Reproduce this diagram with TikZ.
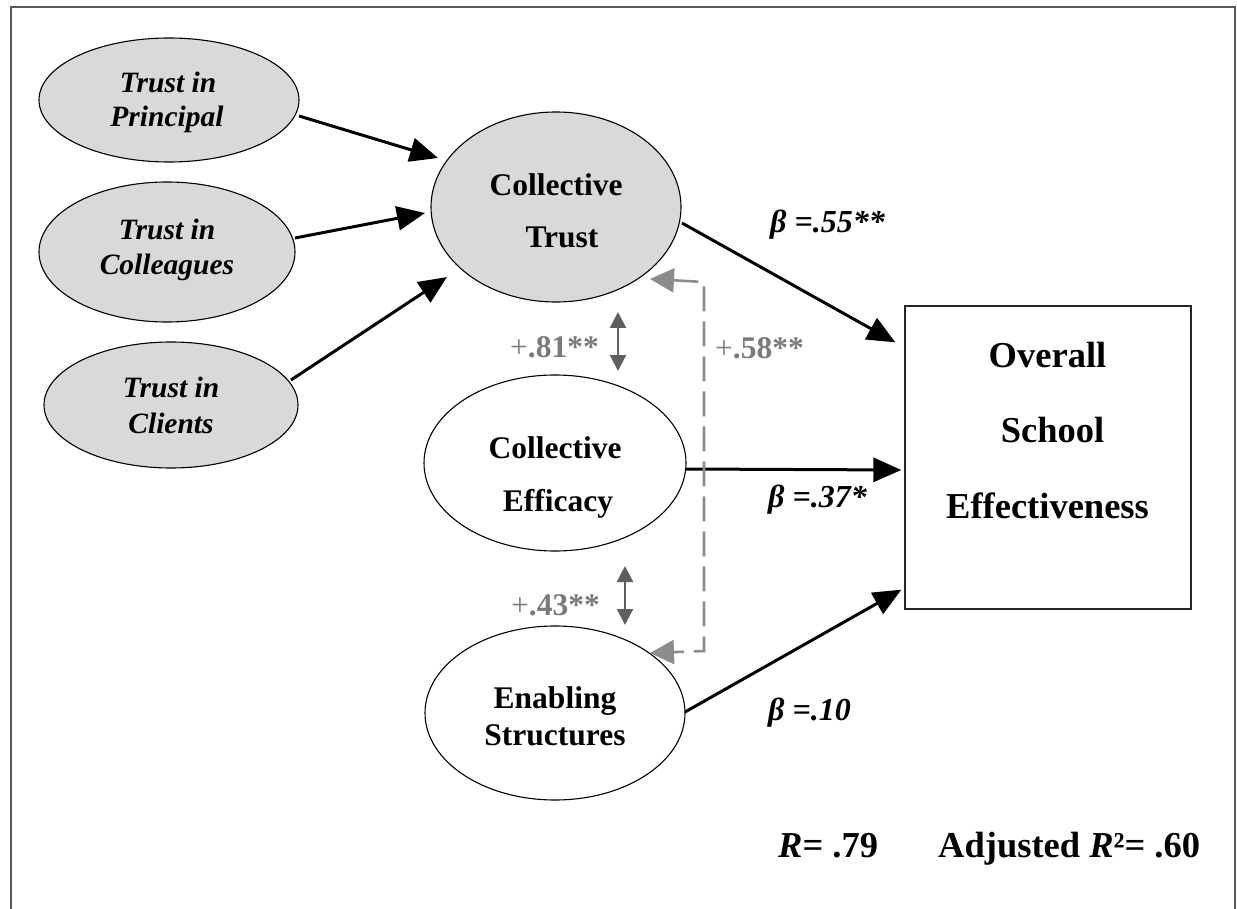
\documentclass[tikz,border=0pt]{standalone}
\usepackage{fontspec}
\setmainfont{Liberation Serif}
\usetikzlibrary{arrows.meta,calc,shapes.geometric}
\definecolor{elgray}{HTML}{D9D9D9}
\definecolor{framegray}{HTML}{595959}
\definecolor{dashgray}{HTML}{8C8C8C}
\definecolor{dblgray}{HTML}{5F5F5F}
\definecolor{labgray}{HTML}{7A7A7A}
\begin{document}
\begin{tikzpicture}[x=1pt,y=-1pt,
  el/.style={ellipse, draw, line width=1.1pt, inner sep=0pt},
  gel/.style={el, fill=elgray},
  ital/.style={inner sep=0pt, anchor=base, font=\fontsize{29.5}{34}\selectfont\bfseries\itshape},
  bld/.style={inner sep=0pt, anchor=base, font=\fontsize{31.5}{38}\selectfont\bfseries},
  boxt/.style={inner sep=0pt, anchor=base, font=\fontsize{36.5}{44}\selectfont\bfseries},
  beta/.style={inner sep=0pt, anchor=base west, font=\fontsize{32}{36}\selectfont\bfseries\itshape},
  glab/.style={inner sep=0pt, anchor=base west, text=labgray, font=\fontsize{31.5}{36}\selectfont\bfseries},
  rlab/.style={inner sep=0pt, anchor=base west, font=\fontsize{36.5}{42}\selectfont\bfseries},
  arr/.style={line width=3pt, -{Triangle[length=28pt,width=24pt]}},
  dsh/.style={line width=2.6pt, dashgray, dash pattern=on 25pt off 10pt,
    {Triangle[length=24pt,width=24pt]}-{Triangle[length=24pt,width=24pt]}},
  dbl/.style={line width=2.2pt, dblgray,
    {Triangle[length=16pt,width=16pt]}-{Triangle[length=16pt,width=16pt]}}
]
\useasboundingbox (0,0) rectangle (1237,909);
\draw[line width=2pt, framegray] (11,909) -- (11,7) -- (1235,7) -- (1235,909);

% ellipses
\node[gel, minimum width=260pt, minimum height=124pt] (tp) at (169,100) {};
\node[gel, minimum width=256pt, minimum height=140pt] (tc) at (167,252) {};
\node[gel, minimum width=254pt, minimum height=126pt] (tcl) at (171,405) {};
\node[gel, minimum width=250pt, minimum height=190pt] (ct) at (556,207) {};
\node[el, minimum width=262pt, minimum height=176pt] (ce) at (555,463) {};
\node[el, minimum width=260pt, minimum height=174pt] (es) at (555,713) {};
\node[draw, line width=1.3pt, draw=black!85, minimum width=286pt, minimum height=303pt, inner sep=0pt] (box) at (1048,457.5) {};

% texts
\node[ital] (tp1) at (168,93) {Trust in};
\node[ital] (tp2) at (167,127) {Principal};
\node[ital] (tc1) at (167,240) {Trust in};
\node[ital] (tc2) at (167,275) {Colleagues};
\node[ital] (tcl1) at (171,397) {Trust in};
\node[ital] (tcl2) at (171,433) {Clients};
\node[bld] (ct1) at (556,196) {Collective};
\node[bld] (ct2) at (562,248) {Trust};
\node[bld] (ce1) at (555,458) {Collective};
\node[bld] (ce2) at (558,511) {Efficacy};
\node[bld] (es1) at (555,708) {Enabling};
\node[bld] (es2) at (555,745) {Structures};
\node[boxt] (b1) at (1047.5,367) {Overall};
\node[boxt] (b2) at (1052.5,442) {School};
\node[boxt] (b3) at (1047.5,518) {Effectiveness};

% black arrows
\draw[arr] ($(tp)+(130,16)$) -- ($(ct)+(-118,-49)$);
\draw[arr] ($(tc)+(128,-14)$) -- ($(ct)+(-131,6)$);
\draw[arr] ($(tcl)+(120,-25)$) -- ($(ct)+(-109,70)$);
\draw[arr] ($(ct)+(126,16)$) -- ($(box.north west)+(-9,37)$);
\draw[arr] ($(ce)+(131,6)$) -- ($(box.west)+(-3,12.5)$);
\draw[arr] ($(es)+(130,-1)$) -- ($(box.south west)+(-3,-20)$);

% dashed correlation
\coordinate (dk1) at (704,282);
\coordinate (dk2) at (704,651);
\draw[dsh] ($(ct)+(94,72)$) -- (dk1) -- (dk2) -- ($(es)+(95,-60)$);

% double arrows
\coordinate (d1a) at (618,312);
\coordinate (d1b) at (618,371);
\coordinate (d2a) at (625,566);
\coordinate (d2b) at (625,625);
\draw[dbl] (d1a) -- (d1b);
\draw[dbl] (d2a) -- (d2b);

% labels
\node[beta] (l55) at (770,233) {β =.55**};
\node[beta] (l37) at (768,507) {β =.37*};
\node[beta] (l10) at (768,720) {β =.10};
\node[glab] (l81) at (510,357) {{\mdseries +}.81**};
\node[glab] (l43) at (511,615) {{\mdseries +}.43**};
\node[glab] (l58) at (715,359) {{\mdseries +}.58**};
\node[rlab] (rr) at (778,857) {{\itshape R}= .79};
\node[rlab] (ra) at (938,857) {Adjusted {\itshape R}²= .60};
\end{tikzpicture}
\end{document}
